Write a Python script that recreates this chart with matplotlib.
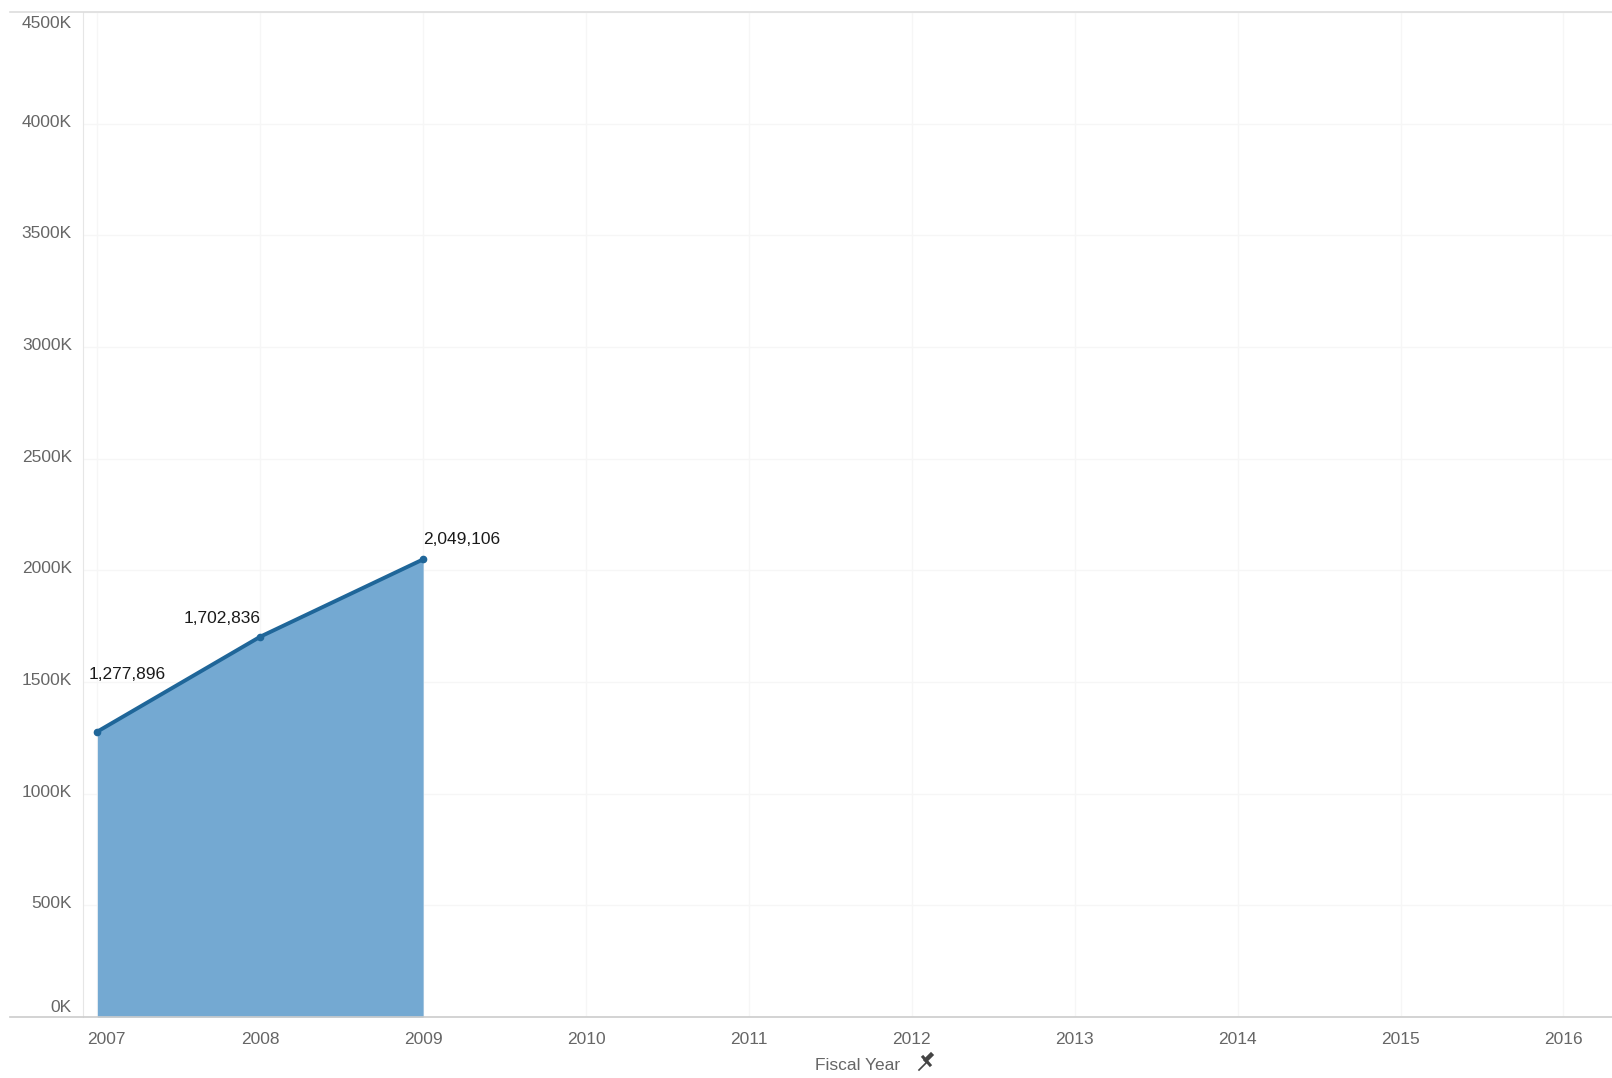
import numpy as np
import matplotlib.pyplot as plt
from matplotlib.lines import Line2D
from matplotlib.transforms import ScaledTranslation

plt.rcParams['font.family'] = ['Liberation Sans', 'DejaVu Sans']

# Datos
years = [2007, 2008, 2009]
values = [1277896, 1702836, 2049106]
point_labels = ['1,277,896', '1,702,836', '2,049,106']
axis_years = [2007, 2008, 2009, 2010, 2011, 2012, 2013, 2014, 2015, 2016]
y_ticks = [0, 500000, 1000000, 1500000, 2000000, 2500000, 3000000, 3500000, 4000000, 4500000]
y_tick_labels = ['0K', '500K', '1000K', '1500K', '2000K', '2500K', '3000K', '3500K', '4000K', '4500K']

# Desplazamiento de las etiquetas (pixeles)
label_offsets = [(30, 57), (-38, 18), (39, 20)]

fig = plt.figure(figsize=(16.12, 10.78), dpi=100)
ax = fig.add_axes([83/1612, 1 - 1017/1078, 1 - 83/1612, (1017 - 12)/1078])

ax.fill_between(years, values, 0, color='#74a9d2', linewidth=0, zorder=2)
ax.plot(years, values, color='#1f6699', linewidth=2.8, zorder=3)
ax.plot(years, values, 'o', color='#1f6699', markersize=4.5, zorder=4)

for x, v, lab, off in zip(years, values, point_labels, label_offsets):
    ax.annotate(lab, (x, v), xytext=(off[0] * 0.72, off[1] * 0.72), textcoords='offset points',
                ha='center', va='center', fontsize=12.5, color='#1a1a1a')

ax.set_xlim(2006.912, 2016.298)
ax.set_ylim(0, 4500000)
ax.set_xticks(axis_years)
ax.set_xticklabels([str(y) for y in axis_years])
ax.set_yticks(y_ticks)
ax.set_yticklabels(y_tick_labels)
ax.tick_params(axis='both', length=0, labelsize=12.5, labelcolor='#666666')
ax.tick_params(axis='x', pad=11)
ax.tick_params(axis='y', pad=8)

# ajustes de etiquetas en los extremos
xl = ax.get_xticklabels()
xl[0].set_transform(xl[0].get_transform() + ScaledTranslation(9/100, 0, fig.dpi_scale_trans))
yl = ax.get_yticklabels()
yl[-1].set_transform(yl[-1].get_transform() + ScaledTranslation(0, -10/100, fig.dpi_scale_trans))
yl[0].set_transform(yl[0].get_transform() + ScaledTranslation(0, 11/100, fig.dpi_scale_trans))
for t in yl[1:-1]:
    t.set_transform(t.get_transform() + ScaledTranslation(0, 3/100, fig.dpi_scale_trans))

ax.grid(True, color='#f6f6f6', linewidth=1.0, zorder=0)
ax.set_axisbelow(True)
for s in ['top', 'right', 'bottom']:
    ax.spines[s].set_visible(False)
ax.spines['left'].set_color('#e6e6e6')

# lineas horizontales que cruzan el area de etiquetas
fig.add_artist(Line2D([10/1612, 1], [1 - 1017/1078] * 2, color='#cccccc', linewidth=1.2))
fig.add_artist(Line2D([10/1612, 1], [1 - 12/1078] * 2, color='#dddddd', linewidth=1.2))

# titulo del eje x con chincheta
fig.text(858/1612, 1 - 1065/1078, 'Fiscal Year', ha='center', va='center', fontsize=12.5, color='#666666')
px, py = 925/1612, 1 - 1063/1078
fig.add_artist(Line2D([px - 6/1612, px + 1/1612], [py - 7/1078, py], color='#444444', linewidth=1.2))
fig.add_artist(Line2D([px - 2/1612, px + 5/1612], [py + 6/1078, py - 2/1078], color='#444444', linewidth=2.2))
fig.add_artist(Line2D([px + 1/1612, px + 6/1612], [py + 3/1078, py + 8/1078], color='#444444', linewidth=3.2))

fig.savefig('out.png', dpi=100)
